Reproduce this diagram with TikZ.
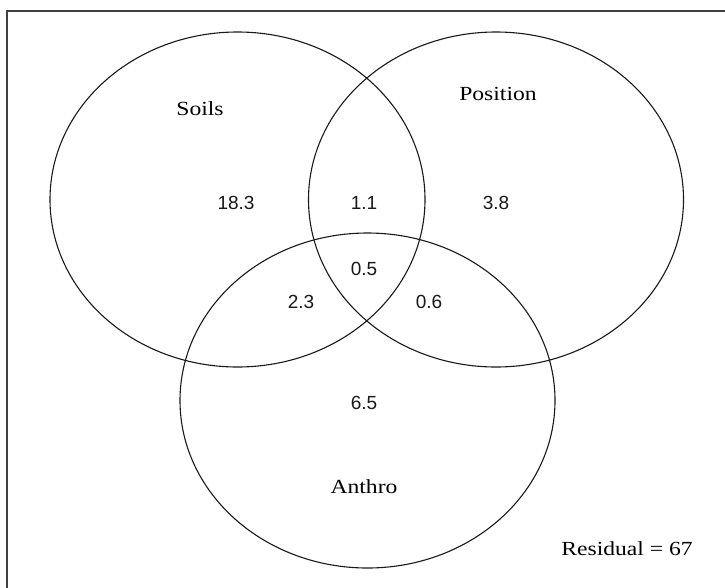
\documentclass[tikz,border=0pt]{standalone}
\usepackage{fontspec}
\usetikzlibrary{shapes.geometric}
\newfontfamily\labelserif[FakeStretch=1.18]{Liberation Serif}
\newfontfamily\labelsans{Liberation Sans}
\tikzset{
  setcircle/.style={ellipse, draw=black!90, line width=1.1pt, inner sep=0pt,
    minimum width=375pt, minimum height=335pt},
  setname/.style={font=\labelserif\fontsize{20}{22}\selectfont, inner sep=0pt, text=black},
  setvalue/.style={font=\labelsans\fontsize{19}{21}\selectfont, inner sep=0pt, text=black!90},
  frameline/.style={draw=black!75, line width=1.4pt}
}
\begin{document}
\begin{tikzpicture}[x=1pt, y=-1pt]
  \useasboundingbox (0,0) rectangle (725,587);
  \fill[white] (0,0) rectangle (725,587);
  \begin{scope}
    \clip (0,0) rectangle (725,587);
    \coordinate (frameA) at (7,600);
    \coordinate (frameB) at (7,11);
    \coordinate (frameC) at (740,11);
    \draw[frameline] (frameA) -- (frameB) -- (frameC);
  \end{scope}

  \node[setcircle] (soils) at (237.5,199.5) {};
  \node[setcircle] (position) at (496,199.5) {};
  \node[setcircle] (anthro) at (367.5,400.5) {};

  \node[setname] (soilslbl) at (200,109) {Soils};
  \node[setname] (positionlbl) at (498,94) {Position};
  \node[setname] (anthrolbl) at (364,487) {Anthro};
  \node[setname] (residual) at (627,549) {Residual = 67};

  \node[setvalue] (v183) at (236,203) {18.3};
  \node[setvalue] (v11) at (364,203) {1.1};
  \node[setvalue] (v38) at (496,203) {3.8};
  \node[setvalue] (v05) at (364,269) {0.5};
  \node[setvalue] (v23) at (301,302) {2.3};
  \node[setvalue] (v06) at (429,302) {0.6};
  \node[setvalue] (v65) at (364,403) {6.5};
\end{tikzpicture}
\end{document}
